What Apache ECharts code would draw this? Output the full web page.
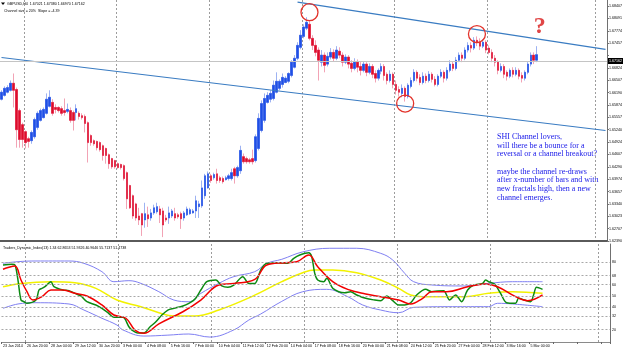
<!DOCTYPE html>
<html>
<head>
<meta charset="utf-8">
<script src="https://cdn.jsdelivr.net/npm/echarts@6/dist/echarts.min.js"></script>
<style>
  html, body { margin: 0; padding: 0; background: #fff; }
  #chart { width: 625px; height: 349px; }
</style>
</head>
<body>
<div id="chart"></div>
<script>
// bottom time labels, one every 8 H4 bars
const xLabels = [
  "23 Jan 2014", "26 Jan 20:00", "28 Jan 04:00", "29 Jan 12:00", "30 Jan 20:00",
  "3 Feb 00:00", "4 Feb 08:00", "5 Feb 16:00", "7 Feb 00:00", "10 Feb 04:00",
  "11 Feb 12:00", "12 Feb 20:00", "14 Feb 04:00", "17 Feb 08:00", "18 Feb 16:00",
  "20 Feb 00:00", "21 Feb 08:00", "24 Feb 12:00", "25 Feb 20:00", "27 Feb 04:00",
  "28 Feb 12:00", "3 Mar 16:00", "5 Mar 00:00"
];
const weekBars = [8, 39, 70, 101, 132, 163, 199];
const priceTicks = [
  "1.62390", "1.62707", "1.63023", "1.63340", "1.63657", "1.63974", "1.64290",
  "1.64607", "1.64924", "1.65240", "1.65557", "1.65874", "1.66190", "1.66507",
  "1.66824", "1.67141", "1.67457", "1.67774", "1.68091", "1.68407"
];
const tdiLevels = [20, 32, 40, 50, 60, 68, 80];
const tdiEdges = [10.0047, 95.0823];

// H4 candles: [open, close, low, high]
const ohlc = [
  [1.6602,1.6620,1.6599,1.6625],[1.6612,1.6630,1.6609,1.6635],[1.6620,1.6632,1.6617,1.6638],[1.6625,1.6643,1.6622,1.6650],
  [1.6643,1.6625,1.6581,1.6668],[1.6627,1.6524,1.6478,1.6632],[1.6573,1.6499,1.6478,1.6578],[1.6537,1.6499,1.6478,1.6542],
  [1.6519,1.6491,1.6476,1.6522],[1.6501,1.6494,1.6478,1.6506],[1.6496,1.6517,1.6488,1.6522],[1.6506,1.6550,1.6501,1.6555],
  [1.6530,1.6566,1.6524,1.6571],[1.6548,1.6573,1.6545,1.6578],[1.6555,1.6576,1.6553,1.6581],[1.6566,1.6602,1.6563,1.6617],
  [1.6584,1.6607,1.6581,1.6625],[1.6594,1.6566,1.6560,1.6602],[1.6581,1.6576,1.6566,1.6589],[1.6581,1.6573,1.6568,1.6584],
  [1.6578,1.6566,1.6560,1.6584],[1.6573,1.6568,1.6560,1.6604],[1.6571,1.6576,1.6566,1.6591],[1.6573,1.6548,1.6542,1.6581],
  [1.6568,1.6548,1.6522,1.6573],[1.6568,1.6578,1.6548,1.6589],[1.6566,1.6558,1.6550,1.6571],[1.6560,1.6555,1.6550,1.6566],
  [1.6558,1.6540,1.6517,1.6563],[1.6542,1.6491,1.6440,1.6545],[1.6509,1.6491,1.6483,1.6512],[1.6496,1.6488,1.6483,1.6499],
  [1.6494,1.6478,1.6471,1.6496],[1.6491,1.6473,1.6468,1.6494],[1.6483,1.6458,1.6445,1.6486],[1.6476,1.6458,1.6437,1.6478],
  [1.6460,1.6437,1.6424,1.6463],[1.6450,1.6429,1.6424,1.6452],[1.6445,1.6429,1.6424,1.6447],[1.6437,1.6427,1.6424,1.6440],
  [1.6435,1.6427,1.6422,1.6437],[1.6432,1.6399,1.6394,1.6435],[1.6414,1.6347,1.6321,1.6417],[1.6381,1.6324,1.6321,1.6383],
  [1.6355,1.6303,1.6296,1.6358],[1.6334,1.6298,1.6291,1.6337],[1.6303,1.6293,1.6280,1.6324],[1.6309,1.6280,1.6252,1.6311],
  [1.6293,1.6309,1.6273,1.6337],[1.6306,1.6296,1.6275,1.6327],[1.6298,1.6311,1.6291,1.6321],[1.6311,1.6324,1.6306,1.6332],
  [1.6314,1.6327,1.6309,1.6337],[1.6321,1.6306,1.6285,1.6329],[1.6316,1.6280,1.6249,1.6324],[1.6298,1.6293,1.6288,1.6306],
  [1.6298,1.6311,1.6283,1.6327],[1.6303,1.6316,1.6298,1.6321],[1.6309,1.6298,1.6291,1.6324],[1.6306,1.6301,1.6296,1.6311],
  [1.6309,1.6296,1.6270,1.6314],[1.6298,1.6311,1.6291,1.6316],[1.6306,1.6321,1.6303,1.6327],[1.6309,1.6319,1.6306,1.6324],
  [1.6311,1.6316,1.6309,1.6321],[1.6316,1.6342,1.6298,1.6355],[1.6327,1.6334,1.6298,1.6342],[1.6329,1.6375,1.6324,1.6394],
  [1.6355,1.6406,1.6347,1.6411],[1.6375,1.6411,1.6373,1.6417],[1.6406,1.6394,1.6388,1.6411],[1.6401,1.6409,1.6396,1.6414],
  [1.6411,1.6394,1.6386,1.6424],[1.6401,1.6394,1.6388,1.6406],[1.6399,1.6391,1.6386,1.6404],[1.6396,1.6401,1.6394,1.6406],
  [1.6399,1.6406,1.6394,1.6411],[1.6399,1.6414,1.6394,1.6424],[1.6424,1.6406,1.6386,1.6429],[1.6406,1.6427,1.6401,1.6432],
  [1.6419,1.6471,1.6411,1.6483],[1.6455,1.6442,1.6437,1.6463],[1.6450,1.6442,1.6437,1.6455],[1.6447,1.6442,1.6437,1.6452],
  [1.6450,1.6442,1.6435,1.6473],[1.6445,1.6506,1.6440,1.6512],[1.6476,1.6553,1.6471,1.6566],[1.6522,1.6591,1.6517,1.6599],
  [1.6548,1.6604,1.6542,1.6617],[1.6594,1.6612,1.6591,1.6620],[1.6602,1.6617,1.6594,1.6625],[1.6604,1.6638,1.6599,1.6650],
  [1.6620,1.6648,1.6617,1.6671],[1.6630,1.6648,1.6625,1.6653],[1.6640,1.6658,1.6632,1.6668],[1.6645,1.6656,1.6643,1.6661],
  [1.6648,1.6668,1.6643,1.6671],[1.6663,1.6697,1.6658,1.6702],[1.6684,1.6707,1.6681,1.6715],[1.6707,1.6740,1.6702,1.6748],
  [1.6735,1.6766,1.6730,1.6779],[1.6763,1.6787,1.6758,1.6794],[1.6784,1.6799,1.6779,1.6812],[1.6794,1.6758,1.6753,1.6805],
  [1.6758,1.6740,1.6728,1.6766],[1.6740,1.6722,1.6712,1.6753],[1.6728,1.6702,1.6650,1.6735],[1.6697,1.6715,1.6686,1.6728],
  [1.6715,1.6689,1.6671,1.6722],[1.6692,1.6712,1.6686,1.6722],[1.6710,1.6722,1.6704,1.6733],[1.6722,1.6707,1.6699,1.6730],
  [1.6707,1.6728,1.6702,1.6738],[1.6725,1.6715,1.6707,1.6735],[1.6715,1.6697,1.6686,1.6722],[1.6697,1.6710,1.6692,1.6717],
  [1.6710,1.6692,1.6681,1.6715],[1.6694,1.6681,1.6671,1.6702],[1.6681,1.6697,1.6676,1.6707],[1.6697,1.6684,1.6671,1.6704],
  [1.6686,1.6676,1.6663,1.6697],[1.6676,1.6692,1.6671,1.6699],[1.6692,1.6671,1.6661,1.6697],[1.6671,1.6686,1.6666,1.6694],
  [1.6686,1.6666,1.6656,1.6692],[1.6668,1.6656,1.6645,1.6676],[1.6656,1.6676,1.6650,1.6681],[1.6674,1.6686,1.6666,1.6694],
  [1.6686,1.6663,1.6650,1.6692],[1.6666,1.6650,1.6640,1.6671],[1.6650,1.6666,1.6645,1.6676],[1.6666,1.6640,1.6630,1.6671],
  [1.6640,1.6625,1.6614,1.6650],[1.6627,1.6620,1.6609,1.6635],[1.6617,1.6630,1.6607,1.6640],[1.6630,1.6609,1.6596,1.6635],
  [1.6609,1.6638,1.6604,1.6643],[1.6635,1.6650,1.6630,1.6658],[1.6650,1.6671,1.6645,1.6679],[1.6671,1.6656,1.6648,1.6676],
  [1.6658,1.6645,1.6638,1.6666],[1.6645,1.6661,1.6640,1.6671],[1.6661,1.6650,1.6643,1.6668],[1.6650,1.6666,1.6645,1.6674],
  [1.6666,1.6653,1.6645,1.6671],[1.6653,1.6640,1.6635,1.6661],[1.6640,1.6661,1.6635,1.6666],[1.6661,1.6671,1.6656,1.6679],
  [1.6671,1.6656,1.6645,1.6676],[1.6656,1.6676,1.6650,1.6684],[1.6676,1.6692,1.6671,1.6702],[1.6692,1.6681,1.6674,1.6699],
  [1.6681,1.6702,1.6676,1.6710],[1.6702,1.6715,1.6697,1.6722],[1.6715,1.6707,1.6697,1.6722],[1.6707,1.6728,1.6702,1.6735],
  [1.6728,1.6740,1.6722,1.6748],[1.6740,1.6733,1.6722,1.6748],[1.6733,1.6753,1.6728,1.6761],[1.6753,1.6748,1.6738,1.6763],
  [1.6748,1.6738,1.6728,1.6758],[1.6738,1.6748,1.6733,1.6756],[1.6748,1.6728,1.6720,1.6753],[1.6733,1.6722,1.6717,1.6740],
  [1.6722,1.6707,1.6697,1.6730],[1.6707,1.6697,1.6686,1.6715],[1.6697,1.6676,1.6666,1.6702],[1.6676,1.6686,1.6671,1.6694],
  [1.6686,1.6666,1.6656,1.6692],[1.6671,1.6661,1.6650,1.6676],[1.6661,1.6676,1.6656,1.6681],[1.6676,1.6666,1.6658,1.6684],
  [1.6666,1.6676,1.6661,1.6684],[1.6676,1.6661,1.6653,1.6681],[1.6663,1.6656,1.6645,1.6671],[1.6656,1.6671,1.6650,1.6676],
  [1.6671,1.6692,1.6666,1.6697],[1.6692,1.6715,1.6686,1.6722],[1.6715,1.6702,1.6692,1.6722],[1.67021,1.67162,1.66970,1.67380]
];

// Traders Dynamic Index, [bar, value]
const upperBand = [[0,78.8],[5,80.3],[11,80.9],[22,80.9],[27,78.8],[33,71.4],[37,62.5],[42,63.4],[46,61],[52,53.6],[57,46.2],[62,44.7],[66,52.1],[72,61],[77,67],[84,71.4],[88,78.8],[93,82.4],[100,89],[109,92.2],[118,92.2],[126,87.7],[130,81.8],[134,70],[137,62.5],[143,59.6],[154,58.7],[162,61],[170,62.5],[180,62.5]];
const lowerBand = [[0,38.8],[5,42.7],[11,43.8],[22,42.7],[27,37.3],[33,30],[38,24],[40,19.6],[47,14.2],[55,15],[62,16],[69,13.3],[77,19.6],[82,28.4],[86,33.8],[93,45],[100,53.6],[108,55.7],[115,49.2],[120,41.8],[126,37.3],[132,34.9],[137,39.7],[150,40.3],[162,40.3],[165,43.3],[170,42.7],[180,40.3]];
const baseLine = [[0,58],[6,61],[16,62.5],[24,61.6],[31,56.6],[38,46.2],[46,40.3],[52,34.9],[57,32],[64,32],[72,37.3],[83,49.2],[93,62.5],[100,70.5],[104,72.9],[110,72.9],[118,70.5],[126,64],[132,56.6],[136,50.7],[140,49.2],[154,49.2],[162,52.2],[170,53.6],[180,52.2]];
const signalLine = [[0,73.5],[2,75.3],[4,76.4],[6,64],[8,53.6],[10,46.2],[13,49.2],[16,55.1],[20,55.1],[24,52.2],[28,49.8],[33,41.8],[37,32.9],[41,30],[44,19.6],[47,16.6],[52,25],[60,35.8],[66,46.2],[72,59.6],[77,61],[84,64.6],[88,77.3],[94,79.4],[98,80.3],[102,86.2],[105,75.8],[110,62.5],[115,55.7],[121,51.6],[126,49.2],[132,46.2],[136,42.7],[140,47.7],[143,53.6],[148,53.6],[155,58],[161,60.4],[165,58],[171,49.2],[175,45.6],[180,50.7]];
const rsiLine = [[0,77.3],[3,77.9],[4,77.3],[5,64],[6,46.2],[7,44.7],[8,43.3],[11,46.2],[12,55.1],[13,56.6],[14,58.1],[16,62.5],[17,58.1],[20,55.1],[22,54.5],[24,52.1],[26,49.8],[28,44.7],[31,41.8],[33,38.8],[35,35],[37,30.8],[40,30.8],[42,22.5],[43,19.5],[45,16.9],[47,16.9],[49,22.2],[51,26.9],[53,32.9],[55,37.3],[57,38.8],[60,40.9],[62,43.3],[64,46.8],[66,55.1],[68,62.5],[71,64],[73,58.7],[75,57.5],[77,59.5],[80,67],[82,61],[84,61],[86,72.9],[88,78.8],[92,79.4],[95,78.8],[97,83.3],[99,86.2],[102,88.3],[103,84.7],[104,69.9],[105,64],[107,62.5],[108,65.5],[110,56.6],[112,53.6],[114,52.7],[116,53.6],[118,50.7],[121,47.7],[124,46.2],[126,45.6],[128,49.8],[130,45.6],[132,41.8],[134,41.8],[136,43.8],[138,50.7],[141,55.7],[143,53.6],[145,54.2],[147,54.5],[149,46.2],[151,50.7],[153,44.7],[155,55.1],[157,59.5],[160,61],[161,64],[162,62.5],[164,60.4],[166,52.1],[168,43.8],[171,43.3],[172,47.7],[174,46.2],[176,44.7],[177,50.7],[178,57.5],[180,55.7]];

// hand drawn objects
const channelUpper = [[99, 1.6851], [202, 1.6730]];
const channelLower = [[0, 1.6709], [202, 1.6522]];
const circles = [[103, 1.6825], [135, 1.6591], [159, 1.6769]];
const question = [180, 1.6787];
const note = [
  "SHI Channel lovers,",
  "will there be a bounce for a",
  "reversal or a channel breakout?",
  "",
  "maybe the channel re-draws",
  "after x-number of bars and with",
  "new fractals high, then a new",
  "channel emerges."
];

const nBars = 203;
const cats = Array.from({ length: nBars }, (_, i) => String(i));
const priceMin = parseFloat(priceTicks[0]);
const priceStep = (parseFloat(priceTicks[priceTicks.length - 1]) - priceMin) / (priceTicks.length - 1);
const priceMax = priceMin + priceStep * 19.49;
const last = ohlc[ohlc.length - 1];
const bid = last[1];
const small = 3.6;
const font = "Liberation Sans";

const chart = echarts.init(document.getElementById("chart"));

const gridLine = {
  show: true,
  interval: (i) => weekBars.includes(i),
  lineStyle: { color: "#9c9c9c", type: [2, 2], width: 1 }
};

chart.setOption({
  animation: false,
  backgroundColor: "#fff",
  textStyle: { fontFamily: font },
  grid: [
    { left: 0, right: 15, top: 0, height: 241 },
    { left: 0, right: 15, top: 244, height: 98 }
  ],
  xAxis: [
    {
      type: "category", gridIndex: 0, data: cats,
      axisLine: { show: true, onZero: false, lineStyle: { color: "#5a5a5a", width: 2 } },
      axisTick: { show: false }, axisLabel: { show: false },
      splitLine: gridLine
    },
    {
      type: "category", gridIndex: 1, data: cats,
      axisLine: { show: true, onZero: false, lineStyle: { color: "#8a8a8a", width: 1 } },
      axisTick: { show: true, length: 2, interval: (i) => i % 8 === 0, lineStyle: { color: "#666" } },
      axisLabel: {
        interval: (i) => i % 8 === 0 && i / 8 < xLabels.length,
        formatter: (v, i) => xLabels[i / 8] || "",
        align: "left", margin: 1.5, fontSize: small, color: "#000", fontFamily: font
      },
      splitLine: gridLine
    }
  ],
  yAxis: [
    {
      type: "value", gridIndex: 0, position: "right",
      min: priceMin, max: priceMax, interval: priceStep,
      axisLine: { show: true, lineStyle: { color: "#707070" } },
      axisTick: { show: true, length: 2, lineStyle: { color: "#707070" } },
      splitLine: { show: false },
      axisLabel: {
        margin: 2, fontSize: small, color: "#000", fontFamily: font,
        showMaxLabel: false,
        formatter: (v) => {
          const k = Math.round((v - priceMin) / priceStep);
          if (Math.abs(v - (priceMin + k * priceStep)) > 1e-7) return "";
          const t = priceTicks[k];
          if (!t || Math.abs(parseFloat(t) - bid) < priceStep * 0.6) return "";
          return t;
        }
      }
    },
    {
      type: "value", gridIndex: 1, position: "right", min: 8.9, max: 96,
      axisLine: { show: true, lineStyle: { color: "#707070" } },
      axisTick: { show: false }, axisLabel: { show: false }, splitLine: { show: false }
    }
  ],
  series: [
    {
      name: "wicks", type: "candlestick", xAxisIndex: 0, yAxisIndex: 0,
      data: ohlc, barWidth: 2,
      itemStyle: { color: "#9db2f2", color0: "#f2a3b5", borderColor: "#9db2f2", borderColor0: "#f2a3b5", borderWidth: 1 },
      markLine: {
        silent: true, symbol: "none",
        lineStyle: { color: "#c4c4c4", type: "solid", width: 1 },
        label: {
          position: "end", distance: 1, formatter: bid.toFixed(5),
          backgroundColor: "#000", color: "#fff", fontSize: small, padding: [1, 1], fontFamily: font
        },
        data: [{ yAxis: bid }]
      },
      markPoint: {
        silent: true, symbol: "circle", symbolSize: 17,
        itemStyle: { color: "rgba(0,0,0,0)", borderColor: "#e3342c", borderWidth: 1.3 },
        label: { show: false },
        data: circles.map((c) => ({ coord: c }))
      }
    },
    {
      name: "bodies", type: "candlestick", xAxisIndex: 0, yAxisIndex: 0,
      data: ohlc.map(([o, c]) => [o, c, Math.min(o, c), Math.max(o, c)]), barWidth: 2,
      itemStyle: { color: "#1f4fe6", color0: "#de0c2c", borderColor: "#1f4fe6", borderColor0: "#de0c2c", borderWidth: 0.5 },
      markPoint: {
        silent: true, symbol: "circle", symbolSize: 1,
        itemStyle: { color: "rgba(0,0,0,0)" },
        label: {
          show: true, position: "inside", formatter: "?", color: "#e04646",
          fontSize: 24, fontWeight: "bold", fontFamily: "Liberation Serif"
        },
        data: [{ coord: question }]
      }
    },
    {
      name: "channel upper", type: "line", xAxisIndex: 0, yAxisIndex: 0,
      data: channelUpper, symbol: "none", silent: true,
      lineStyle: { color: "#3a7cc2", width: 1.2 }
    },
    {
      name: "channel lower", type: "line", xAxisIndex: 0, yAxisIndex: 0,
      data: channelLower, symbol: "none", silent: true,
      lineStyle: { color: "#3a7cc2", width: 1.2 }
    },
    {
      name: "upper band", type: "line", xAxisIndex: 1, yAxisIndex: 1,
      data: upperBand, symbol: "none", smooth: 0.4,
      lineStyle: { color: "#7f7ff2", width: 1 },
      markLine: {
        silent: true, symbol: "none",
        lineStyle: { color: "#a8a8a8", type: [2, 2], width: 1 },
        label: { position: "end", distance: 2, fontSize: small, color: "#000", fontFamily: font, formatter: (p) => String(p.value) },
        data: tdiLevels.map((v) => ({ yAxis: v })).concat(
          tdiEdges.map((v) => ({ yAxis: v, lineStyle: { opacity: 0 } }))
        )
      }
    },
    {
      name: "base", type: "line", xAxisIndex: 1, yAxisIndex: 1,
      data: baseLine, symbol: "none", smooth: 0.4,
      lineStyle: { color: "#f2f200", width: 1.5 }
    },
    {
      name: "lower band", type: "line", xAxisIndex: 1, yAxisIndex: 1,
      data: lowerBand, symbol: "none", smooth: 0.4,
      lineStyle: { color: "#7f7ff2", width: 1 }
    },
    {
      name: "rsi", type: "line", xAxisIndex: 1, yAxisIndex: 1,
      data: rsiLine, symbol: "none", smooth: 0.3,
      lineStyle: { color: "#0c8a12", width: 1.5 }
    },
    {
      name: "signal", type: "line", xAxisIndex: 1, yAxisIndex: 1,
      data: signalLine, symbol: "none", smooth: 0.4,
      lineStyle: { color: "#f20000", width: 1.5 }
    }
  ],
  graphic: [
    { type: "polygon", shape: { points: [[1, 2.5], [5, 2.5], [3, 5]] }, style: { fill: "#000" } },
    {
      type: "text", left: 7, top: 1.5,
      style: {
        text: "GBPUSD,H4  " + [last[0], last[3], last[2], last[1]].map((v) => v.toFixed(5)).join(" "),
        fontSize: small, fontFamily: font, fill: "#000"
      }
    },
    {
      type: "text", left: 4, top: 8.5,
      style: { text: "Channel size = 20%  Slope = -4.39", fontSize: small, fontFamily: font, fill: "#000" }
    },
    {
      type: "text", left: 3, top: 245.5,
      style: {
        text: "Traders_Dynamic_Index(13) 1.34 62.8653 51.9326 40.9646 55.7137 51.4738",
        fontSize: small, fontFamily: font, fill: "#000"
      }
    },
    {
      type: "text", left: 497, top: 132.5,
      style: { text: note.join("\n"), fontSize: 8, lineHeight: 8.7, fontFamily: "Liberation Serif", fill: "#1818e8" }
    }
  ]
});
</script>
</body>
</html>
